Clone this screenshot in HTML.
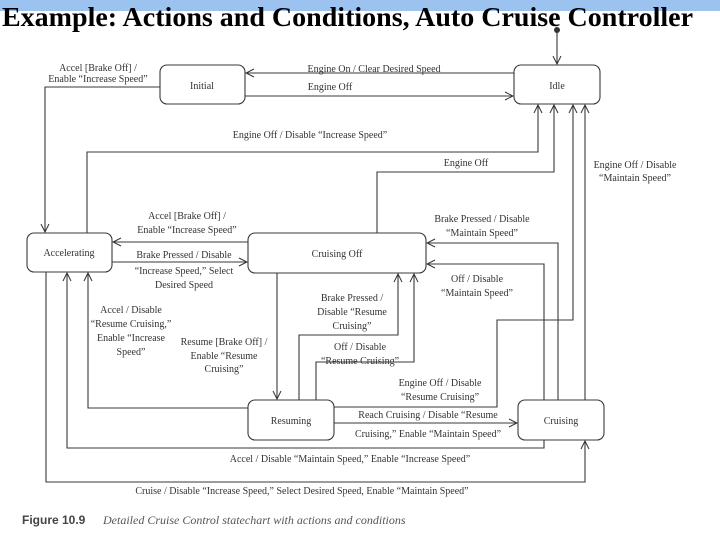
<!DOCTYPE html>
<html><head><meta charset="utf-8"><style>
html,body{margin:0;padding:0;background:#fff;}
svg{display:block;}
.t{font-family:"Liberation Serif",serif;font-size:10px;fill:#333;}
</style></head><body>
<svg width="720" height="540" viewBox="0 0 720 540" xmlns="http://www.w3.org/2000/svg">
<defs>
<marker id="a" markerWidth="10" markerHeight="10" refX="9" refY="5" orient="auto" markerUnits="userSpaceOnUse">
<path d="M1,1 L9,5 L1,9" fill="none" stroke="#333" stroke-width="1"/>
</marker>
</defs>
<rect x="0" y="0" width="720" height="11" fill="#9cc3f0"/>
<text x="2" y="26" font-family="Liberation Serif,serif" font-weight="bold" font-size="27" textLength="691" lengthAdjust="spacingAndGlyphs" fill="#000">Example: Actions and Conditions, Auto Cruise Controller</text>

<circle cx="557" cy="30" r="3" fill="#333"/>
<g fill="none" stroke="#3a3a3a" stroke-width="1.1">
<rect x="160" y="65" width="85" height="39" rx="7"/>
<rect x="514" y="65" width="86" height="39" rx="7"/>
<rect x="27" y="233" width="85" height="39" rx="7"/>
<rect x="248" y="233" width="178" height="40" rx="7"/>
<rect x="248" y="400" width="86" height="40" rx="7"/>
<rect x="518" y="400" width="86" height="40" rx="7"/>

<line x1="557" y1="32" x2="557" y2="64" marker-end="url(#a)"/>
<line x1="514" y1="73" x2="246" y2="73" marker-end="url(#a)"/>
<line x1="245" y1="96" x2="513" y2="96" marker-end="url(#a)"/>
<polyline points="160,87 45,87 45,232" marker-end="url(#a)"/>
<polyline points="87,233 87,152 538,152 538,105" marker-end="url(#a)"/>
<polyline points="377,233 377,172 554,172 554,105" marker-end="url(#a)"/>
<polyline points="334,407 497,407 497,320 573,320 573,105" marker-end="url(#a)"/>
<polyline points="585,400 585,105" marker-end="url(#a)"/>
<polyline points="558,400 558,243 427,243" marker-end="url(#a)"/>
<polyline points="544,400 544,264 427,264" marker-end="url(#a)"/>
<line x1="248" y1="242" x2="113" y2="242" marker-end="url(#a)"/>
<line x1="112" y1="262" x2="247" y2="262" marker-end="url(#a)"/>
<line x1="277" y1="273" x2="277" y2="399" marker-end="url(#a)"/>
<polyline points="299,400 299,335 398,335 398,274" marker-end="url(#a)"/>
<polyline points="316,400 316,362 414,362 414,274" marker-end="url(#a)"/>
<polyline points="248,408 88,408 88,273" marker-end="url(#a)"/>
<polyline points="544,440 544,448 67,448 67,273" marker-end="url(#a)"/>
<polyline points="46,272 46,482 585,482 585,441" marker-end="url(#a)"/>
<line x1="334" y1="423" x2="517" y2="423" marker-end="url(#a)"/>
</g>

<g class="t" text-anchor="middle">
<text x="202" y="89">Initial</text>
<text x="557" y="89">Idle</text>
<text x="69" y="256">Accelerating</text>
<text x="337" y="257">Cruising Off</text>
<text x="291" y="424">Resuming</text>
<text x="561" y="424">Cruising</text>

<text x="374" y="72">Engine On / Clear Desired Speed</text>
<text x="330" y="90">Engine Off</text>
<text x="98" y="71">Accel [Brake Off] /</text>
<text x="98" y="82">Enable “Increase Speed”</text>
<text x="310" y="138">Engine Off / Disable “Increase Speed”</text>
<text x="466" y="166">Engine Off</text>
<text x="635" y="168">Engine Off / Disable</text>
<text x="635" y="181">“Maintain Speed”</text>
<text x="187" y="219">Accel [Brake Off] /</text>
<text x="187" y="233">Enable “Increase Speed”</text>
<text x="184" y="258">Brake Pressed / Disable</text>
<text x="184" y="274">“Increase Speed,” Select</text>
<text x="184" y="288">Desired Speed</text>
<text x="482" y="222">Brake Pressed / Disable</text>
<text x="482" y="236">“Maintain Speed”</text>
<text x="477" y="282">Off / Disable</text>
<text x="477" y="296">“Maintain Speed”</text>
<text x="352" y="301">Brake Pressed /</text>
<text x="352" y="315">Disable “Resume</text>
<text x="352" y="329">Cruising”</text>
<text x="360" y="350">Off / Disable</text>
<text x="360" y="364">“Resume Cruising”</text>
<text x="131" y="313">Accel / Disable</text>
<text x="131" y="327">“Resume Cruising,”</text>
<text x="131" y="341">Enable “Increase</text>
<text x="131" y="355">Speed”</text>
<text x="224" y="345">Resume [Brake Off] /</text>
<text x="224" y="359">Enable “Resume</text>
<text x="224" y="372">Cruising”</text>
<text x="440" y="386">Engine Off / Disable</text>
<text x="440" y="400">“Resume Cruising”</text>
<text x="428" y="418">Reach Cruising / Disable “Resume</text>
<text x="428" y="437">Cruising,” Enable “Maintain Speed”</text>
<text x="350" y="462">Accel / Disable “Maintain Speed,” Enable “Increase Speed”</text>
<text x="302" y="494">Cruise / Disable “Increase Speed,” Select Desired Speed, Enable “Maintain Speed”</text>
</g>
<text x="22" y="524" font-family="Liberation Sans,sans-serif" font-weight="bold" font-size="12" fill="#444">Figure 10.9</text>
<text x="103" y="524" font-family="Liberation Serif,serif" font-style="italic" font-size="12" fill="#555">Detailed Cruise Control statechart with actions and conditions</text>
</svg>
</body></html>
